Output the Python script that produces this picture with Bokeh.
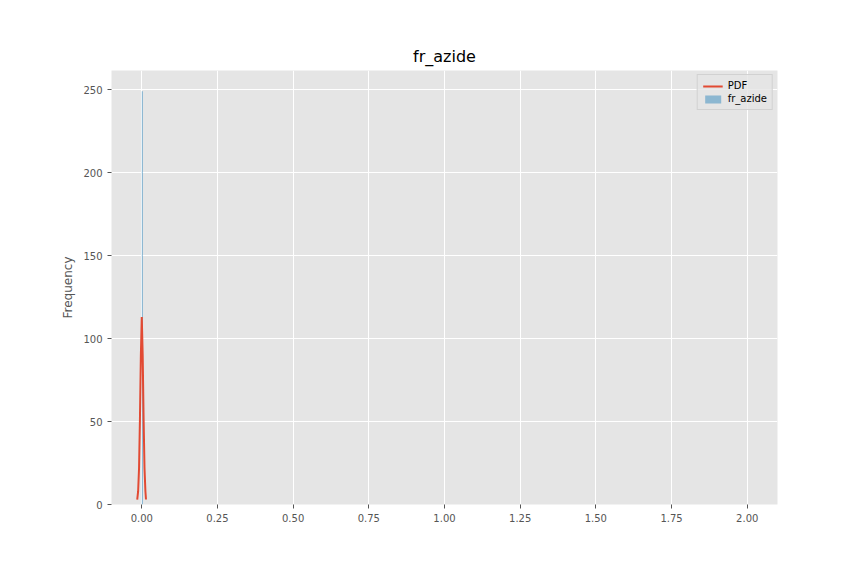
from bokeh.plotting import figure
from bokeh.models import Range1d, FixedTicker, Legend, LegendItem
from bokeh.embed import file_html
from bokeh.resources import INLINE

# histogram data
hist_left = [0.0]
hist_right = [0.004]
hist_counts = [249]

# PDF (scaled density) curve
pdf_x = [-0.015, -0.012, -0.009, -0.006, -0.003, 0.0, 0.003, 0.006, 0.009, 0.012, 0.014]
pdf_y = [3, 8, 22, 52, 90, 113, 90, 52, 22, 8, 3]

x_ticks = [0.0, 0.25, 0.5, 0.75, 1.0, 1.25, 1.5, 1.75, 2.0]
y_ticks = [0, 50, 100, 150, 200, 250]

FONT = "DejaVu Sans"

p = figure(width=848, height=560, output_backend="svg", toolbar_location=None,
           x_range=Range1d(-0.1, 2.1), y_range=Range1d(0, 261.5),
           min_border_left=111, min_border_right=71, min_border_top=70, min_border_bottom=56)

p.title.text = "fr_azide"
p.title.align = "center"
p.title.text_font = FONT
p.title.text_font_size = "16px"
p.title.text_font_style = "normal"
p.title.text_color = "black"

p.background_fill_color = "#E5E5E5"
p.border_fill_color = "white"
p.outline_line_color = None

for ax in (p.xaxis[0], p.yaxis[0]):
    ax.axis_line_color = None
    ax.major_tick_line_color = "#555555"
    ax.major_tick_in = 0
    ax.major_tick_out = 4
    ax.minor_tick_line_color = None
    ax.major_label_text_font = FONT
    ax.major_label_text_font_size = "10px"
    ax.major_label_text_color = "#555555"

p.xaxis.ticker = FixedTicker(ticks=x_ticks)
p.yaxis.ticker = FixedTicker(ticks=y_ticks)
p.xaxis.major_label_overrides = {t: f"{t:.2f}" for t in x_ticks}
p.yaxis.axis_label = "Frequency"
p.yaxis.axis_label_text_font = FONT
p.yaxis.axis_label_text_font_size = "12px"
p.yaxis.axis_label_text_font_style = "normal"
p.yaxis.axis_label_text_color = "#555555"

p.xgrid.grid_line_color = "white"
p.ygrid.grid_line_color = "white"
p.xgrid.ticker = FixedTicker(ticks=x_ticks)
p.ygrid.ticker = FixedTicker(ticks=y_ticks)

bars = p.quad(left=hist_left, right=hist_right, bottom=0, top=hist_counts,
              fill_color="#348ABD", fill_alpha=0.5, line_color=None)
line = p.line(pdf_x, pdf_y, line_color="#E24A33", line_width=2)

legend = Legend(items=[LegendItem(label="PDF", renderers=[line]),
                       LegendItem(label="fr_azide", renderers=[bars])],
                location="top_right")
legend.label_text_font = FONT
legend.label_text_font_size = "10px"
legend.label_text_color = "black"
legend.background_fill_color = "#E5E5E5"
legend.background_fill_alpha = 0.8
legend.border_line_color = "#CCCCCC"
legend.border_line_alpha = 0.8
legend.glyph_width = 20
legend.glyph_height = 10
legend.label_height = 10
legend.spacing = 2
legend.padding = 5
legend.margin = 4
p.add_layout(legend)

open("out.html", "w").write(file_html(p, INLINE))
